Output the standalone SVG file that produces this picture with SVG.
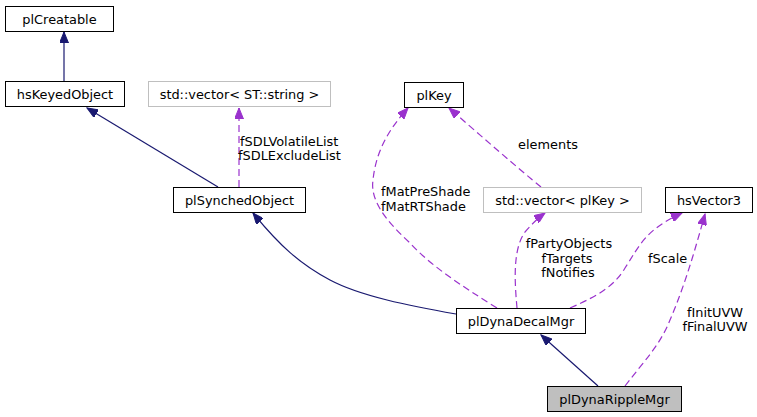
<svg xmlns="http://www.w3.org/2000/svg" width="757" height="417" viewBox="0 0 757 417">
<style>
  text { font-family: "DejaVu Sans", "Liberation Sans", sans-serif; font-size: 12.9px; fill: #000; }
  .node rect { fill: #fff; stroke: #000; stroke-width: 1; }
  .node.ext rect { stroke: #bfbfbf; }
  .node.cur rect { fill: #bfbfbf; stroke: #000; }
  .inh { fill: none; stroke: #191970; stroke-width: 1.2; }
  .use { fill: none; stroke: #9a32cd; stroke-width: 1.2; stroke-dasharray: 7,4; }
  .lbl { text-anchor: start; }
  .mid { text-anchor: middle; }
</style>
<defs>
  <marker id="aInh" viewBox="0 0 12 9" refX="11" refY="4.5" markerWidth="12" markerHeight="9" markerUnits="userSpaceOnUse" orient="auto">
    <path d="M0,0 L11,4.5 L0,9 z" fill="#191970" stroke="#191970" stroke-width="1"/>
  </marker>
  <marker id="aUse" viewBox="0 0 12 9" refX="11" refY="4.5" markerWidth="12" markerHeight="9" markerUnits="userSpaceOnUse" orient="auto">
    <path d="M0,0 L11,4.5 L0,9 z" fill="#9a32cd" stroke="#9a32cd" stroke-width="1"/>
  </marker>
</defs>

<g id="connectors">
  <path class="inh" d="M64,81 L64,32" marker-end="url(#aInh)"/>
  <path class="inh" d="M218,187 L87,108" marker-end="url(#aInh)"/>
  <path class="use" d="M239,187 L239,108" marker-end="url(#aUse)"/>
  <path class="inh" d="M456,314 C410,306 360,296 330,280 C300,264 280,246 253,213" marker-end="url(#aInh)"/>
  <path class="use" d="M497,308 C460,285 430,265 410,243 C385,220 370,200 373,180 C376,150 390,128 408,108" marker-end="url(#aUse)"/>
  <path class="use" d="M541,187 C520,170 480,135 449,108" marker-end="url(#aUse)"/>
  <path class="use" d="M517,308 C515,285 512,250 525,232 C532,224 538,218 545,213" marker-end="url(#aUse)"/>
  <path class="use" d="M570,308 C600,295 615,285 625,268 C640,245 645,230 682,213" marker-end="url(#aUse)"/>
  <path class="use" d="M625,386 C645,360 660,345 670,320 C685,285 695,250 705,214" marker-end="url(#aUse)"/>
  <path class="inh" d="M598,386 L541,335" marker-end="url(#aInh)"/>
  <text class="lbl" x="240" y="146">fSDLVolatileList</text>
  <text class="lbl" x="238" y="160">fSDLExcludeList</text>
  <text class="lbl" x="381" y="196">fMatPreShade</text>
  <text class="lbl" x="381" y="211">fMatRTShade</text>
  <text class="mid" x="548" y="149">elements</text>
  <text class="mid" x="569" y="248">fPartyObjects</text>
  <text class="mid" x="567" y="263">fTargets</text>
  <text class="mid" x="568" y="277">fNotifies</text>
  <text class="lbl" x="648" y="263">fScale</text>
  <text class="mid" x="715" y="317">fInitUVW</text>
  <text class="mid" x="715" y="331">fFinalUVW</text>
</g>

<g id="plCreatable" class="node">
  <rect x="5.5" y="6.5" width="108" height="25"/>
  <text class="mid" x="59.5" y="23.5">plCreatable</text>
</g>
<g id="hsKeyedObject" class="node">
  <rect x="5.5" y="81.5" width="119" height="25"/>
  <text class="mid" x="65" y="98.5">hsKeyedObject</text>
</g>
<g id="vecSTstring" class="node ext">
  <rect x="148.5" y="81.5" width="182" height="25"/>
  <text class="mid" x="239.5" y="98.5">std::vector&lt; ST::string &gt;</text>
</g>
<g id="plSynchedObject" class="node">
  <rect x="173.5" y="187.5" width="132" height="25"/>
  <text class="mid" x="239.5" y="204.5">plSynchedObject</text>
</g>
<g id="plKey" class="node">
  <rect x="404.5" y="82.5" width="59" height="25"/>
  <text class="mid" x="434" y="99.5">plKey</text>
</g>
<g id="vecPlKey" class="node ext">
  <rect x="483.5" y="187.5" width="158" height="25"/>
  <text class="mid" x="562.5" y="204.5">std::vector&lt; plKey &gt;</text>
</g>
<g id="hsVector3" class="node">
  <rect x="665.5" y="187.5" width="87" height="25"/>
  <text class="mid" x="709" y="204.5">hsVector3</text>
</g>
<g id="plDynaDecalMgr" class="node">
  <rect x="456.5" y="308.5" width="129" height="25"/>
  <text class="mid" x="521" y="325.5">plDynaDecalMgr</text>
</g>
<g id="plDynaRippleMgr" class="node cur">
  <rect x="547.5" y="386.5" width="134" height="25"/>
  <text class="mid" x="614.5" y="403.5">plDynaRippleMgr</text>
</g>
</svg>
